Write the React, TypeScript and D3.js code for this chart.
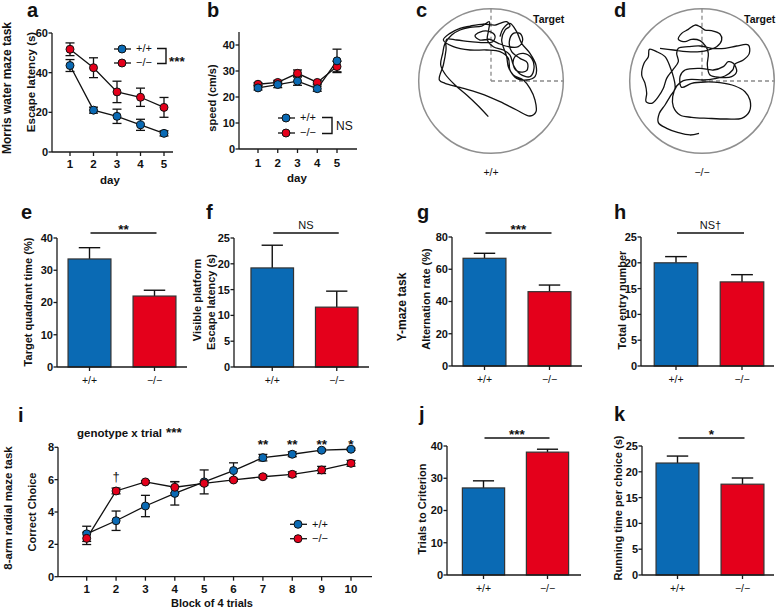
import React from 'react';
import * as d3 from 'd3';

const FONT = '"Liberation Sans", Arial, Helvetica, sans-serif';
const BLUE = '#0a6ab4';
const RED = '#e4001b';
const AXIS = '#1a1a1a';

// ---------------- data ----------------
const genotypes = ['+/+', '−/−'];

// a: Morris water maze escape latency (s)
const days = [1, 2, 3, 4, 5];
const latencyWT = [43.6, 21.1, 18.0, 13.7, 9.4];
const latencyWTErr = [3.0, 1.5, 3.6, 2.8, 1.3];
const latencyKO = [51.8, 42.5, 30.3, 27.6, 22.5];
const latencyKOErr = [3.2, 5.0, 5.4, 4.6, 5.0];

// b: swim speed (cm/s)
const speedWT = [23.5, 24.8, 26.1, 23.2, 33.9];
const speedWTErr = [0.8, 1.2, 1.6, 1.0, 4.5];
const speedKO = [24.9, 25.6, 29.1, 25.6, 31.7];
const speedKOErr = [0.6, 0.8, 1.3, 0.7, 2.0];

// c, d: probe-trial swim tracks (tracker units, arena centre ~ (243,243), radius 217)
const trackWT: [number, number][] = [
  [235, 350], [205, 318], [170, 285], [135, 255], [105, 222], [92, 195], [98, 160], [105, 130],
  [125, 105], [150, 90], [180, 82], [215, 78], [238, 65], [236, 90], [232, 120], [250, 140],
  [280, 150], [300, 165], [310, 195], [330, 222], [360, 230], [372, 205], [365, 175], [340, 160],
  [315, 170], [310, 195], [325, 215], [350, 212], [352, 188], [330, 175], [305, 155], [298, 125],
  [310, 100], [330, 100], [338, 120], [325, 140], [295, 140], [265, 130], [240, 118], [210, 120],
  [195, 108], [210, 96], [240, 95], [255, 108], [248, 125], [220, 128], [180, 125], [140, 120],
  [110, 118], [108, 150], [100, 195], [88, 240], [105, 250], [150, 262], [210, 280], [270, 305],
  [320, 330], [360, 348], [378, 335], [375, 300], [360, 265], [340, 240], [310, 225], [295, 200],
  [290, 170], [275, 120], [285, 90], [300, 78], [290, 65], [270, 70], [255, 75], [220, 72],
  [180, 78], [150, 85], [120, 100], [100, 120], [130, 140], [180, 150], [230, 150], [270, 155],
  [295, 175], [300, 210], [320, 235], [350, 240], [375, 230], [378, 195], [360, 160], [335, 130],
  [320, 95], [300, 70], [280, 85], [270, 110]
];
const trackKO: [number, number][] = [
  [237, 400], [210, 405], [175, 398], [140, 385], [115, 368], [118, 340], [135, 315], [150, 290],
  [165, 265], [160, 230], [150, 200], [135, 170], [110, 155], [88, 148], [85, 170], [72, 190],
  [65, 225], [75, 250], [80, 280], [78, 305], [95, 310], [115, 290], [130, 265], [140, 235],
  [158, 210], [175, 185], [170, 160], [175, 145], [205, 140], [240, 138], [275, 145], [315, 145],
  [350, 138], [385, 135], [388, 160], [370, 180], [345, 192], [338, 210], [315, 228], [285, 236],
  [250, 240], [215, 238], [190, 242], [170, 258], [158, 290], [160, 320], [180, 345], [215, 352],
  [265, 355], [320, 357], [365, 355], [388, 335], [390, 300], [375, 275], [345, 258], [300, 248],
  [255, 246], [215, 250], [185, 262], [180, 230], [195, 210], [240, 205], [280, 210], [310, 200],
  [325, 185], [340, 190], [350, 215], [335, 230], [300, 232], [270, 225], [262, 195], [265, 160],
  [258, 140], [240, 122], [215, 118], [195, 125], [175, 118], [185, 100], [205, 88], [225, 75],
  [240, 80], [255, 90], [275, 92], [300, 102], [305, 120], [290, 140], [265, 150], [240, 155],
  [200, 155], [160, 150], [120, 145]
];

// e-h, j-k: bar values [+/+, −/−] and SEM
const quadrantTime = [33.5, 22.0];
const quadrantTimeErr = [3.5, 1.8];
const visibleLatency = [19.2, 11.6];
const visibleLatencyErr = [4.4, 3.1];
const alternation = [66.8, 46.1];
const alternationErr = [3.1, 4.1];
const entries = [20.0, 16.3];
const entriesErr = [1.2, 1.4];
const trialsToCriterion = [27.0, 38.1];
const trialsToCriterionErr = [2.2, 0.9];
const runningTime = [21.7, 17.6];
const runningTimeErr = [1.35, 1.2];

// i: 8-arm radial maze correct choices
const blocks = [1, 2, 3, 4, 5, 6, 7, 8, 9, 10];
const choiceWT = [2.65, 3.46, 4.37, 5.15, 5.86, 6.56, 7.36, 7.57, 7.82, 7.88];
const choiceWTErr = [0.47, 0.6, 0.66, 0.72, 0.74, 0.48, 0.2, 0.15, 0.08, 0.07];
const choiceKO = [2.37, 5.3, 5.86, 5.53, 5.77, 5.98, 6.18, 6.33, 6.6, 7.01];
const choiceKOErr = [0.38, 0.18, 0.08, 0.35, 0.1, 0.08, 0.1, 0.15, 0.22, 0.18];
const choiceMarks = ['', '†', '', '', '', '', '**', '**', '**', '*'];

type Lin = d3.ScaleLinear<number, number>;

const TICK_FS = 11;
const TITLE_FS = 11;

function YAxis({ x, y, ticks, top }: { x: number; y: Lin; ticks: number[]; top?: number }) {
  const [d0, d1] = y.domain();
  return (
    <g>
      <line x1={x} x2={x} y1={y(d0)} y2={top ?? y(d1)} stroke={AXIS} strokeWidth={1.3} />
      {ticks.map((t) => (
        <g key={t}>
          <line x1={x - 3.5} x2={x} y1={y(t)} y2={y(t)} stroke={AXIS} strokeWidth={1.3} />
          <text x={x - 4} y={y(t)} dy="0.36em" textAnchor="end" fontSize={TICK_FS} fontWeight="bold">
            {t}
          </text>
        </g>
      ))}
    </g>
  );
}

function XAxisLin({ x, y0, x0, x1, ticks, labelGap = 12 }: { x: Lin; y0: number; x0: number; x1: number; ticks: number[]; labelGap?: number }) {
  return (
    <g>
      <line x1={x0} x2={x1} y1={y0} y2={y0} stroke={AXIS} strokeWidth={1.3} />
      {ticks.map((t) => (
        <g key={t}>
          <line x1={x(t)} x2={x(t)} y1={y0} y2={y0 + 4} stroke={AXIS} strokeWidth={1.3} />
          <text x={x(t)} y={y0 + labelGap} dy="0.36em" textAnchor="middle" fontSize={11.5} fontWeight="bold">
            {t}
          </text>
        </g>
      ))}
    </g>
  );
}

interface Ser { vals: number[]; errs: number[]; color: string }

function LineSeries({ x, y, xs, series, cap = 4.5 }: { x: Lin; y: Lin; xs: number[]; series: Ser[]; cap?: number }) {
  return (
    <g>
      {series.map((s, si) => {
        const line = d3.line<number>().x((_, i) => x(xs[i])).y((v) => y(v));
        return <path key={'l' + si} d={line(s.vals) ?? ''} fill="none" stroke="#111" strokeWidth={1.3} />;
      })}
      {series.map((s, si) =>
        s.vals.map((v, i) => {
          const cx = x(xs[i]);
          const yt = y(v + s.errs[i]);
          const yb = y(Math.max(0, v - s.errs[i]));
          return (
            <g key={'e' + si + '-' + i} stroke="#111" strokeWidth={1.3}>
              <line x1={cx} x2={cx} y1={yt} y2={yb} />
              <line x1={cx - cap} x2={cx + cap} y1={yt} y2={yt} />
              <line x1={cx - cap} x2={cx + cap} y1={yb} y2={yb} />
            </g>
          );
        })
      )}
      {series.map((s, si) =>
        s.vals.map((v, i) => (
          <circle key={'c' + si + '-' + i} cx={x(xs[i])} cy={y(v)} r={4} fill={s.color} stroke="#111" strokeWidth={1} />
        ))
      )}
    </g>
  );
}

function LegendItem({ x, y, color, label }: { x: number; y: number; color: string; label: string }) {
  return (
    <g>
      <line x1={x - 8} x2={x + 9} y1={y} y2={y} stroke="#111" strokeWidth={1.3} />
      <circle cx={x} cy={y} r={4} fill={color} stroke="#111" strokeWidth={1} />
      <text x={x + 14} y={y} dy="0.3em" fontSize={11}>
        {label}
      </text>
    </g>
  );
}

function VLabel({ x, y, text, size = TITLE_FS }: { x: number; y: number; text: string; size?: number }) {
  return (
    <text transform={`translate(${x},${y}) rotate(-90)`} textAnchor="middle" dy="0.36em" fontSize={size} fontWeight="bold">
      {text}
    </text>
  );
}

function PanelLetter({ x, y, t }: { x: number; y: number; t: string }) {
  return (
    <text x={x} y={y} fontSize={20} fontWeight="bold">
      {t}
    </text>
  );
}

function BarPanel({
  axisX, axisEnd, band, yDomain, yRange, yTicks, values, errs, sig, sigY, sigBold,
}: {
  axisX: number; axisEnd: number; band: [number, number]; yDomain: [number, number]; yRange: [number, number];
  yTicks: number[]; values: number[]; errs: number[]; sig: string; sigY: number; sigBold: boolean;
}) {
  const y = d3.scaleLinear().domain(yDomain).range(yRange);
  const x = d3.scaleBand<string>().domain(genotypes).range(band).paddingInner(0.34).paddingOuter(0.17);
  const bw = x.bandwidth();
  const y0 = y(0);
  const c1 = (x(genotypes[0]) ?? 0) + bw / 2;
  const c2 = (x(genotypes[1]) ?? 0) + bw / 2;
  return (
    <g>
      {genotypes.map((g, i) => {
        const bx = x(g) ?? 0;
        const cx = bx + bw / 2;
        const top = y(values[i]);
        const et = y(values[i] + errs[i]);
        return (
          <g key={g}>
            <line x1={cx} x2={cx} y1={top} y2={et} stroke="#111" strokeWidth={1.4} />
            <line x1={cx - bw / 4} x2={cx + bw / 4} y1={et} y2={et} stroke="#111" strokeWidth={1.4} />
            <rect x={bx} y={top} width={bw} height={y0 - top} fill={i === 0 ? BLUE : RED} stroke="#333" strokeWidth={1.2} />
          </g>
        );
      })}
      <YAxis x={axisX} y={y} ticks={yTicks} />
      <line x1={axisX} x2={axisEnd} y1={y0} y2={y0} stroke={AXIS} strokeWidth={1.3} />
      {genotypes.map((g) => {
        const cx = (x(g) ?? 0) + bw / 2;
        return (
          <g key={'t' + g}>
            <line x1={cx} x2={cx} y1={y0} y2={y0 + 4} stroke={AXIS} strokeWidth={1.3} />
            <text x={cx} y={y0 + 13} dy="0.36em" textAnchor="middle" fontSize={10.5}>
              {g}
            </text>
          </g>
        );
      })}
      <line x1={c1 + 1} x2={c2 + 2} y1={sigY} y2={sigY} stroke="#111" strokeWidth={1.4} />
      <text
        x={(c1 + c2) / 2 + 1.5}
        y={sigBold ? sigY + 0.5 : sigY - 4}
        textAnchor="middle"
        fontSize={sigBold ? 13.5 : 11}
        fontWeight={sigBold ? 'bold' : 'normal'}
      >
        {sig}
      </text>
    </g>
  );
}

function Arena({ cx, cy, r, track, tcx, tcy, label }: { cx: number; cy: number; r: number; track: [number, number][]; tcx: number; tcy: number; label: string }) {
  const sx = d3.scaleLinear().domain([tcx - 217, tcx + 217]).range([cx - r, cx + r]);
  const sy = d3.scaleLinear().domain([tcy - 217, tcy + 217]).range([cy - r, cy + r]);
  const line = d3
    .line<[number, number]>()
    .x((d) => sx(d[0]))
    .y((d) => sy(d[1]))
    .curve(d3.curveCatmullRom.alpha(0.5));
  return (
    <g>
      <circle cx={cx} cy={cy} r={r} fill="none" stroke="#8f8f8f" strokeWidth={1.5} />
      <line x1={cx} x2={cx} y1={cy - r} y2={cy} stroke="#8a8a8a" strokeWidth={1.3} strokeDasharray="4,3" />
      <line x1={cx} x2={cx + r} y1={cy} y2={cy} stroke="#8a8a8a" strokeWidth={1.3} strokeDasharray="4,3" />
      <path d={line(track) ?? ''} fill="none" stroke="#111" strokeWidth={1.3} strokeLinejoin="round" />
      <text x={cx + 42} y={23} fontSize={10.5} fontWeight="bold">
        Target
      </text>
      <text x={cx} y={172} dy="0.36em" textAnchor="middle" fontSize={10.5}>
        {label}
      </text>
    </g>
  );
}

export default function App() {
  // panel a
  const ax = d3.scaleLinear().domain([1, 5]).range([70, 164]);
  const ay = d3.scaleLinear().domain([0, 60]).range([152, 33]);
  // panel b
  const bx = d3.scaleLinear().domain([1, 5]).range([258, 337]);
  const by = d3.scaleLinear().domain([0, 40]).range([149, 45]);
  // panel i
  const ix = d3.scaleLinear().domain([1, 10]).range([86.7, 351]);
  const iy = d3.scaleLinear().domain([0, 8]).range([576.7, 447.3]);

  return (
    <svg
      width={778}
      height={611}
      viewBox="0 0 778 611"
      style={{ position: 'absolute', left: 0, top: 0, background: '#fff' }}
      fontFamily={FONT}
      fill="#111"
    >
      <rect width={778} height={611} fill="#fff" />

      {/* ---------- a ---------- */}
      <PanelLetter x={27} y={17} t="a" />
      <VLabel x={7} y={88} text="Morris water maze task" size={12} />
      <VLabel x={31} y={82} text="Escape latency (s)" size={11.5} />
      <YAxis x={52} y={ay} ticks={[0, 20, 40, 60]} />
      <XAxisLin x={ax} y0={152} x0={52} x1={173} ticks={days} />
      <text x={110} y={180} dy="0.36em" textAnchor="middle" fontSize={11.5} fontWeight="bold">day</text>
      <LineSeries
        x={ax}
        y={ay}
        xs={days}
        series={[
          { vals: latencyWT, errs: latencyWTErr, color: BLUE },
          { vals: latencyKO, errs: latencyKOErr, color: RED },
        ]}
      />
      <LegendItem x={122} y={49} color={BLUE} label="+/+" />
      <LegendItem x={122} y={63} color={RED} label="−/−" />
      <path d="M157,48.5 H166 V63.5 H157" fill="none" stroke="#111" strokeWidth={1.4} />
      <text x={169} y={66} fontSize={13.5} fontWeight="bold">***</text>

      {/* ---------- b ---------- */}
      <PanelLetter x={207} y={17} t="b" />
      <VLabel x={212} y={98} text="speed (cm/s)" />
      <YAxis x={239} y={by} ticks={[0, 10, 20, 30, 40]} top={32} />
      <XAxisLin x={bx} y0={149} x0={239} x1={357} ticks={days} labelGap={14} />
      <text x={297} y={178} dy="0.36em" textAnchor="middle" fontSize={11.5} fontWeight="bold">day</text>
      <LineSeries
        x={bx}
        y={by}
        xs={days}
        series={[
          { vals: speedKO, errs: speedKOErr, color: RED },
          { vals: speedWT, errs: speedWTErr, color: BLUE },
        ]}
      />
      <LegendItem x={286} y={118} color={BLUE} label="+/+" />
      <LegendItem x={286} y={133} color={RED} label="−/−" />
      <path d="M322,117.5 H332 V133.5 H322" fill="none" stroke="#111" strokeWidth={1.4} />
      <text x={336} y={130} fontSize={12}>NS</text>

      {/* ---------- c, d ---------- */}
      <PanelLetter x={416} y={17} t="c" />
      <Arena cx={491} cy={81} r={72.3} track={trackWT} tcx={243} tcy={243} label="+/+" />
      <PanelLetter x={614} y={17} t="d" />
      <Arena cx={702} cy={81} r={72.3} track={trackKO} tcx={246} tcy={243} label="−/−" />

      {/* ---------- e ---------- */}
      <PanelLetter x={21} y={219} t="e" />
      <VLabel x={28} y={302} text="Target quadrant time (%)" />
      <BarPanel axisX={57} axisEnd={187} band={[57, 187]} yDomain={[0, 40]} yRange={[367, 238]} yTicks={[0, 10, 20, 30, 40]}
        values={quadrantTime} errs={quadrantTimeErr} sig="**" sigY={233} sigBold />

      {/* ---------- f ---------- */}
      <PanelLetter x={206} y={219} t="f" />
      <VLabel x={197} y={300} text="Visible platform" />
      <VLabel x={211} y={302} text="Escape latency (s)" />
      <BarPanel axisX={234} axisEnd={369} band={[240, 369]} yDomain={[0, 25]} yRange={[367, 238]} yTicks={[0, 5, 10, 15, 20, 25]}
        values={visibleLatency} errs={visibleLatencyErr} sig="NS" sigY={233} sigBold={false} />

      {/* ---------- g ---------- */}
      <PanelLetter x={417} y={219} t="g" />
      <VLabel x={402} y={307} text="Y-maze task" size={12} />
      <VLabel x={426} y={299} text="Alternation rate (%)" />
      <BarPanel axisX={452} axisEnd={582} band={[452, 582]} yDomain={[0, 80]} yRange={[366, 237]} yTicks={[0, 20, 40, 60, 80]}
        values={alternation} errs={alternationErr} sig="***" sigY={233} sigBold />

      {/* ---------- h ---------- */}
      <PanelLetter x={614} y={219} t="h" />
      <VLabel x={622} y={300} text="Total entry number" />
      <BarPanel axisX={641} axisEnd={774} band={[643, 775]} yDomain={[0, 25]} yRange={[366, 237]} yTicks={[0, 5, 10, 15, 20, 25]}
        values={entries} errs={entriesErr} sig="NS†" sigY={233} sigBold={false} />

      {/* ---------- i ---------- */}
      <PanelLetter x={18} y={422} t="i" />
      <VLabel x={8} y={508} text="8-arm radial maze task" size={11.5} />
      <VLabel x={32} y={512} text="Correct Choice" />
      <text x={77} y={437} fontSize={11.5} fontWeight="bold">
        genotype x trial
        <tspan dx={4} fontSize={13.5}>***</tspan>
      </text>
      <YAxis x={58} y={iy} ticks={[0, 2, 4, 6, 8]} />
      <XAxisLin x={ix} y0={576.7} x0={58} x1={372} ticks={blocks} />
      <text x={212} y={603.5} dy="0.36em" textAnchor="middle" fontSize={11} fontWeight="bold">Block of 4 trials</text>
      <LineSeries
        x={ix}
        y={iy}
        xs={blocks}
        series={[
          { vals: choiceWT, errs: choiceWTErr, color: BLUE },
          { vals: choiceKO, errs: choiceKOErr, color: RED },
        ]}
      />
      {choiceMarks.map((m, i) =>
        m ? (
          <text
            key={'m' + i}
            x={ix(blocks[i])}
            y={m === '†' ? 481 : 449}
            textAnchor="middle"
            fontSize={m === '†' ? 13 : 13.5}
            fontWeight={m === '†' ? 'normal' : 'bold'}
          >
            {m}
          </text>
        ) : null
      )}
      <LegendItem x={298} y={524.3} color={BLUE} label="+/+" />
      <LegendItem x={298} y={538.7} color={RED} label="−/−" />

      {/* ---------- j ---------- */}
      <PanelLetter x={419} y={421} t="j" />
      <VLabel x={422} y={509} text="Trials to Criterion" />
      <BarPanel axisX={447} axisEnd={581} band={[451.5, 579.5]} yDomain={[0, 40]} yRange={[575, 446]} yTicks={[0, 10, 20, 30, 40]}
        values={trialsToCriterion} errs={trialsToCriterionErr} sig="***" sigY={438} sigBold />

      {/* ---------- k ---------- */}
      <PanelLetter x={614} y={421} t="k" />
      <VLabel x={618} y={508} text="Running time per choice (s)" />
      <BarPanel axisX={642} axisEnd={774} band={[645, 775]} yDomain={[0, 25]} yRange={[575, 446]} yTicks={[0, 5, 10, 15, 20, 25]}
        values={runningTime} errs={runningTimeErr} sig="*" sigY={438} sigBold />
    </svg>
  );
}
